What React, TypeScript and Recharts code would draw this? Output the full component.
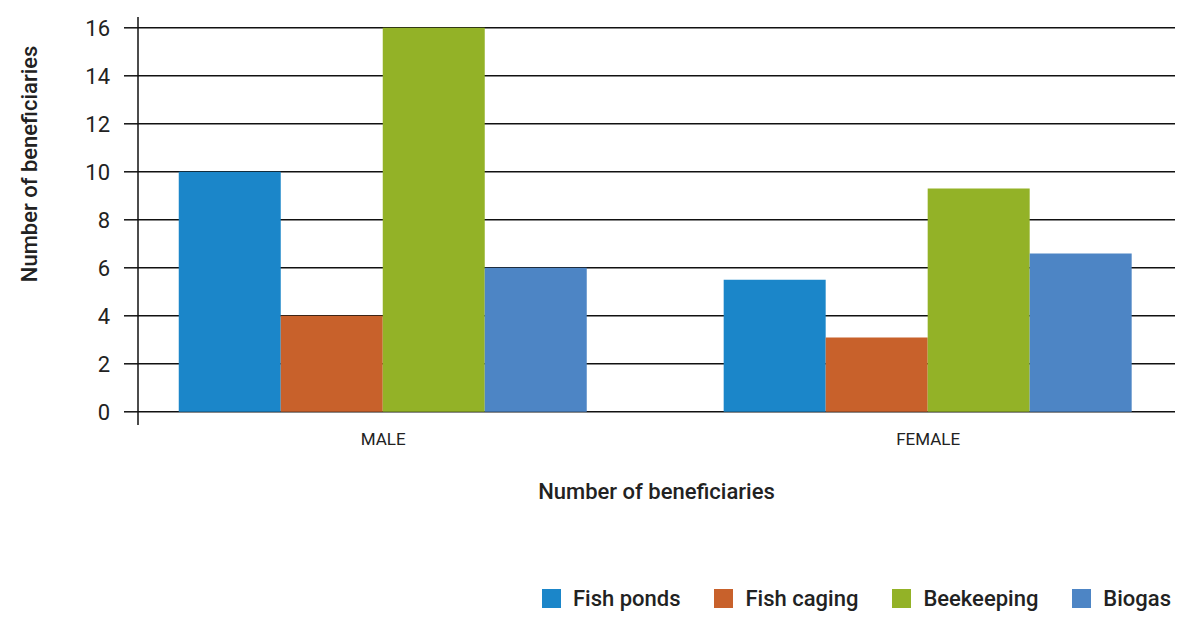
import { BarChart, Bar, XAxis, YAxis, CartesianGrid, Legend } from 'recharts'

const categories = ['MALE', 'FEMALE']
const categoryIndex = [0, 1]
const fishPonds = [10, 5.5]
const fishCaging = [4, 3.1]
const beekeeping = [16, 9.3]
const biogas = [6, 6.6]
const yTicks = [0, 2, 4, 6, 8, 10, 12, 14, 16]

const series = [
  { key: 'fishPonds', name: 'Fish ponds', color: '#1b86c9' },
  { key: 'fishCaging', name: 'Fish caging', color: '#c8612b' },
  { key: 'beekeeping', name: 'Beekeeping', color: '#93b227' },
  { key: 'biogas', name: 'Biogas', color: '#4d85c5' },
]

const data = categories.map((name, i) => ({
  idx: categoryIndex[i],
  name,
  fishPonds: fishPonds[i],
  fishCaging: fishCaging[i],
  beekeeping: beekeeping[i],
  biogas: biogas[i],
}))

const FONT = "Roboto, 'DejaVu Sans', sans-serif"

function YTitle({ viewBox }: any) {
  const x = viewBox.x + 30
  const y = viewBox.y + viewBox.height * 0.36
  return (
    <text
      x={x}
      y={y}
      transform={`rotate(-90, ${x}, ${y})`}
      textAnchor="middle"
      dominantBaseline="central"
      fontSize={22}
      fontWeight={500}
      fill="#222"
    >
      Number of beneficiaries
    </text>
  )
}

function LegendRow() {
  return (
    <div
      style={{
        display: 'flex',
        justifyContent: 'flex-end',
        alignItems: 'center',
        height: 40,
        paddingRight: 4,
        fontSize: 22,
        fontWeight: 500,
        color: '#222',
      }}
    >
      {series.map(s => (
        <div key={s.key} style={{ display: 'flex', alignItems: 'center', marginLeft: 34 }}>
          <span style={{ width: 19, height: 19, background: s.color, marginRight: 12, display: 'inline-block' }} />
          <span>{s.name}</span>
        </div>
      ))}
    </div>
  )
}

export default function App() {
  return (
    <div
      style={{
        position: 'absolute',
        left: 0,
        top: 0,
        background: '#fff',
        fontFamily: FONT,
      }}
    >
      <BarChart
        width={1190}
        height={618}
        data={data}
        barGap={0}
        margin={{ top: 17, right: 15, bottom: 0, left: 0 }}
      >
        <CartesianGrid vertical={false} horizontalValues={yTicks} stroke="#111" strokeWidth={1.5} />
        <XAxis
          type="number"
          dataKey="idx"
          domain={[-0.45, 1.453]}
          ticks={categoryIndex}
          allowDataOverflow
          tickFormatter={(v: number) => categories[v]}
          axisLine={false}
          tickLine={false}
          tickSize={0}
          tickMargin={8}
          height={153}
          tick={{ fontSize: 17, fill: '#222' }}
          label={{
            value: 'Number of beneficiaries',
            position: 'insideTop',
            offset: 58,
            fontSize: 22,
            fontWeight: 500,
            fill: '#222',
          }}
        />
        <YAxis
          domain={[-0.55, 16.45]}
          ticks={yTicks}
          allowDataOverflow
          width={138}
          axisLine={{ stroke: '#111', strokeWidth: 1.5 }}
          tickLine={{ stroke: '#111', strokeWidth: 1.5 }}
          tickSize={14}
          tickMargin={14}
          tick={{ fontSize: 22, fill: '#222' }}
          label={<YTitle />}
        />
        <Legend verticalAlign="bottom" content={<LegendRow />} />
        {series.map(s => (
          <Bar
            key={s.key}
            dataKey={s.key}
            name={s.name}
            fill={s.color}
            barSize={102}
            isAnimationActive={false}
          />
        ))}
      </BarChart>
    </div>
  )
}
